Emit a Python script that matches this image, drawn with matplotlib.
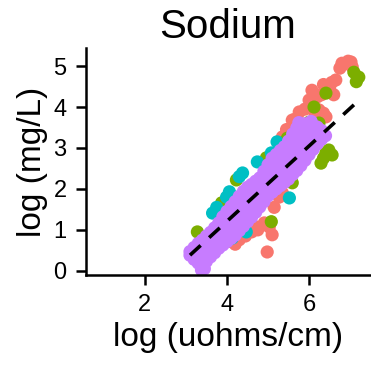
import matplotlib
matplotlib.use("Agg")
import matplotlib.pyplot as plt
import numpy as np

plt.rcParams["font.family"] = ["Liberation Sans", "DejaVu Sans"]

# points, (log conductivity, log sodium)
red_x = [7.02, 6.80, 6.65, 6.44, 6.07, 6.00, 6.24, 6.41, 5.76, 5.59, 5.35, 5.76,
         5.27, 5.03, 5.10, 4.98, 4.30, 3.89, 4.91, 5.27, 4.72, 6.55, 6.20, 5.45,
         6.85, 6.95, 7.05, 6.75, 6.35, 6.50, 6.60, 6.30, 6.10, 6.15, 6.25, 6.35,
         5.65, 5.80, 5.90, 4.05, 4.20, 4.45, 4.60, 4.75, 5.15, 5.35, 5.55]
red_y = [5.10, 5.07, 4.66, 4.49, 4.41, 4.17, 3.93, 3.76, 3.88, 3.68, 3.27, 2.95,
         1.80, 1.07, 0.88, 0.46, 0.76, 0.71, 1.17, 2.05, 1.07, 4.60, 4.25, 3.45,
         5.05, 5.12, 4.98, 4.95, 4.55, 4.45, 4.30, 4.30, 4.20, 3.85, 3.75, 3.85,
         3.70, 3.60, 3.95, 0.72, 0.65, 0.85, 0.95, 1.00, 1.55, 1.90, 2.30]
green_x = [7.21, 7.09, 6.41, 6.12, 6.00, 6.24, 6.00, 6.41, 6.56, 6.29, 4.96, 4.96,
           4.23, 3.87, 5.08, 3.28, 5.59, 5.47, 7.15, 6.48, 6.35, 6.20]
green_y = [4.73, 4.85, 4.34, 4.00, 3.63, 3.61, 3.37, 2.88, 2.83, 2.63, 2.76, 2.46,
           2.22, 1.66, 1.20, 0.95, 2.15, 3.24, 4.62, 2.95, 2.75, 3.40]
cyan_x = [5.22, 4.74, 4.38, 4.06, 3.65, 5.52, 4.47, 4.13, 5.08, 3.99, 5.30, 4.30,
          3.75]
cyan_y = [3.15, 2.66, 2.39, 1.93, 1.41, 1.78, 0.95, 0.80, 2.88, 1.80, 3.00, 2.30,
          1.55]

# purple band, four rows of points along its width
purple_x = [3.2, 3.3, 3.4, 3.5, 3.6, 3.7, 3.8, 3.9, 4.0, 4.1, 4.2, 4.3, 4.4, 4.5,
            4.6, 4.7, 4.8, 4.9, 5.0, 5.1, 5.2, 5.3, 5.4, 5.5, 5.6, 5.7, 5.8, 5.9,
            6.0, 6.1, 6.2, 6.3]
purple_top = [0.57, 0.67, 0.75, 0.85, 0.94, 1.05, 1.17, 1.32, 1.45, 1.57, 1.69,
              1.82, 1.94, 2.04, 2.11, 2.19, 2.27, 2.43, 2.59, 2.75, 2.84, 2.94,
              3.03, 3.17, 3.34, 3.49, 3.54, 3.59, 3.57, 3.54, 3.51, 3.43]
purple_upper = [0.47, 0.51, 0.55, 0.64, 0.74, 0.85, 0.96, 1.09, 1.20, 1.31, 1.42,
                1.54, 1.66, 1.76, 1.84, 1.94, 2.03, 2.18, 2.34, 2.47, 2.56, 2.65,
                2.74, 2.86, 3.01, 3.14, 3.22, 3.29, 3.33, 3.35, 3.37, 3.35]
purple_lower = [0.38, 0.35, 0.35, 0.44, 0.54, 0.64, 0.76, 0.86, 0.96, 1.05, 1.14,
                1.26, 1.37, 1.48, 1.58, 1.68, 1.80, 1.94, 2.08, 2.20, 2.28, 2.37,
                2.45, 2.55, 2.68, 2.80, 2.89, 3.00, 3.08, 3.16, 3.24, 3.28]
purple_bottom = [0.28, 0.19, 0.15, 0.23, 0.34, 0.44, 0.55, 0.63, 0.71, 0.79, 0.87,
                 0.98, 1.09, 1.20, 1.31, 1.43, 1.56, 1.69, 1.83, 1.92, 2.00, 2.08,
                 2.16, 2.24, 2.35, 2.45, 2.57, 2.70, 2.84, 2.97, 3.10, 3.21]
purple_extra_x = [3.10, 3.10, 3.45, 3.38, 6.40, 5.75, 6.05]
purple_extra_y = [0.47, 0.38, 0.05, 0.02, 3.30, 3.62, 3.65]

# linear fit shown as the dashed line
fit_slope = 0.92
fit_intercept = -2.47

purple_all_x = np.concatenate([np.tile(purple_x, 4), purple_extra_x])
purple_all_y = np.concatenate([purple_top, purple_upper, purple_lower,
                               purple_bottom, purple_extra_y])

groups = [(red_x, red_y, "#F8766D"), (green_x, green_y, "#7CAE00"),
          (cyan_x, cyan_y, "#00BFC4"), (purple_all_x, purple_all_y, "#C77CFF")]

fig = plt.figure(figsize=(3.71, 3.70), dpi=100)
ax = fig.add_axes([0.232, 0.257, 0.765, 0.613])

for xs, ys, c in groups:
    ax.scatter(xs, ys, s=90, color=c, edgecolors="none", zorder=2)

all_x = np.concatenate([np.asarray(g[0], float) for g in groups])
fx = np.array([all_x.min(), all_x.max()])
ax.plot(fx, fit_slope * fx + fit_intercept, color="black", lw=2.6,
        ls=(0, (4, 3.2)), zorder=3)

ax.set_xlim(0.57, 7.48)
ax.set_ylim(-0.1, 5.44)
ax.set_xticks([2, 4, 6])
ax.set_yticks([0, 1, 2, 3, 4, 5])
for side in ("top", "right"):
    ax.spines[side].set_visible(False)
for side in ("left", "bottom"):
    ax.spines[side].set_linewidth(1.8)
ax.tick_params(width=1.8, length=7, labelsize=17, colors="black", pad=7)

ax.set_xlabel("log (uohms/cm)", fontsize=24, labelpad=4)
ax.set_ylabel("log (mg/L)", fontsize=24, labelpad=4)
ax.set_title("Sodium", fontsize=29, pad=7)

fig.savefig("out.png", dpi=100)
